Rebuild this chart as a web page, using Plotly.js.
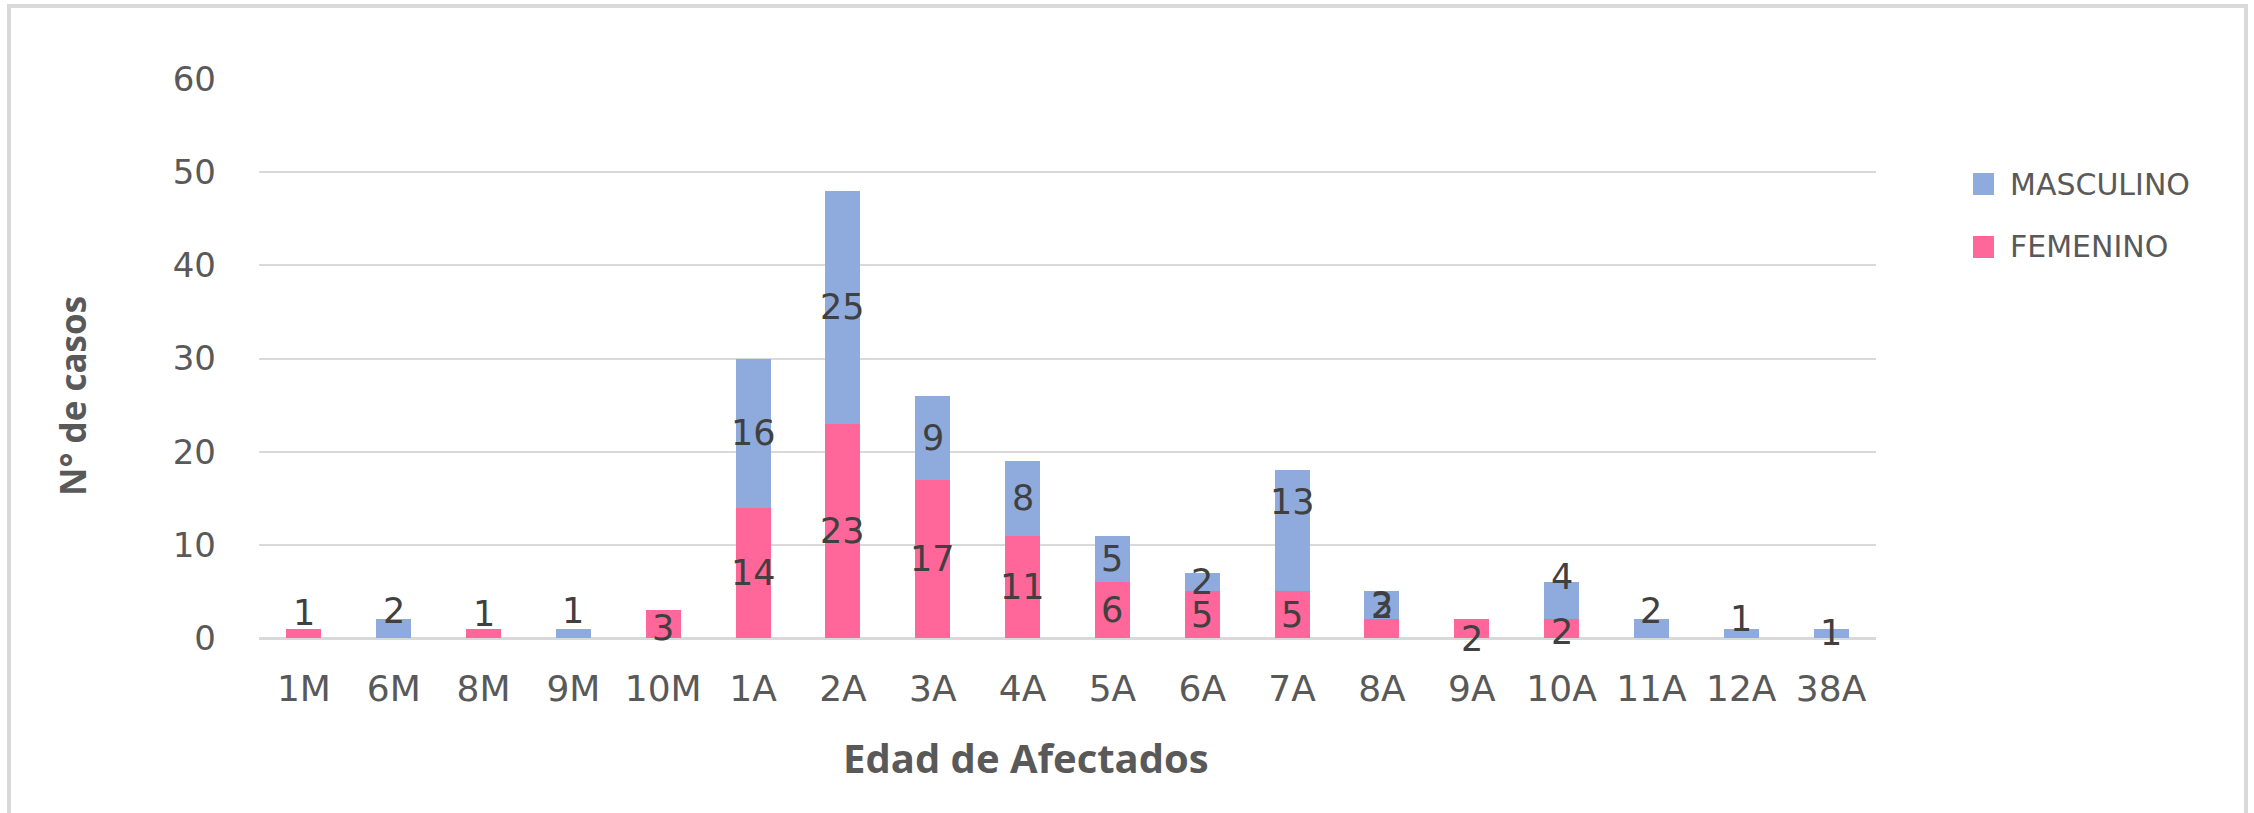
<!DOCTYPE html>
<html>
<head>
<meta charset="utf-8">
<script src="https://cdn.plot.ly/plotly-3.0.1.min.js"></script>
<style>
  html, body { margin: 0; padding: 0; background: #fff; overflow: hidden; }
  #chart { width: 2254px; height: 813px; }
  #frame { position: absolute; left: 7px; top: 4px; width: 2233px; height: 900px;
           border: 4px solid #d9d9d9; border-bottom: none; pointer-events: none; }
</style>
</head>
<body>
<div id="chart"></div>
<div id="frame"></div>
<script>
// ---- data ----
const categories = ['1M','6M','8M','9M','10M','1A','2A','3A','4A','5A','6A','7A','8A','9A','10A','11A','12A','38A'];
const seriesNames = ['FEMENINO', 'MASCULINO'];
const femenino  = [1, null, 1, null, 3, 14, 23, 17, 11, 6, 5, 5, 2, 2, 2, null, null, null];
const masculino = [null, 2, null, 1, null, 16, 25, 9, 8, 5, 2, 13, 3, null, 4, 2, 1, 1];
const yTicks = [0, 10, 20, 30, 40, 50, 60];
const xTitle = 'Edad de Afectados';
const yTitle = 'N° de casos';

// ---- style (label nudges in px, upward) ----
const femShift  = [20, 0, 19, 0, -4, 0, 0, 0, 0, 0, 0, 0, 23, -10, -3, 0, 0, 0];
const mascShift = [0, 18, 0, 22, 0, 0, 0, 0, 0, 0, 0, 29, 0, 0, 24, 18, 14, 0];
const colFem = '#ff6699', colMasc = '#8faadc';

const W = 2254, H = 813;
const M = {l: 259, r: 378, t: 79, b: 175};
const PW = W - M.l - M.r, PH = H - M.t - M.b;
const px2x = p => (p - M.l) / PW;
const py2y = p => (H - M.b - p) / PH;

const traces = [
  {type: 'bar', name: seriesNames[0], x: categories, y: femenino,
   marker: {color: colFem}, hoverinfo: 'x+y+name'},
  {type: 'bar', name: seriesNames[1], x: categories, y: masculino,
   marker: {color: colMasc}, hoverinfo: 'x+y+name'}
];

const labelFont = {family: 'DejaVu Sans', size: 35, color: '#404040'};
const annotations = [];
categories.forEach((c, i) => {
  const f = femenino[i] || 0;
  if (femenino[i] != null) {
    annotations.push({x: c, y: f / 2, xref: 'x', yref: 'y', text: String(femenino[i]),
      showarrow: false, font: labelFont, yshift: femShift[i], xanchor: 'center', yanchor: 'middle'});
  }
  if (masculino[i] != null) {
    annotations.push({x: c, y: f + masculino[i] / 2, xref: 'x', yref: 'y', text: String(masculino[i]),
      showarrow: false, font: labelFont, yshift: mascShift[i], xanchor: 'center', yanchor: 'middle'});
  }
});

// axis titles
annotations.push({xref: 'paper', yref: 'paper', x: px2x(1026), y: py2y(757), text: xTitle,
  showarrow: false, xanchor: 'center', yanchor: 'middle',
  font: {family: 'Open Sans', size: 40, weight: 'bold', color: '#595959'}});
annotations.push({xref: 'paper', yref: 'paper', x: px2x(72), y: py2y(396), text: yTitle,
  showarrow: false, xanchor: 'center', yanchor: 'middle', textangle: -90,
  font: {family: 'Open Sans', size: 35, weight: 'bold', color: '#595959'}});

// legend (manual, MASCULINO on top)
const legendItems = [
  {name: seriesNames[1], color: colMasc, cy: 184},
  {name: seriesNames[0], color: colFem, cy: 247}
];
const shapes = [];
legendItems.forEach(it => {
  shapes.push({type: 'rect', xref: 'paper', yref: 'paper',
    x0: px2x(1973), x1: px2x(1994), y0: py2y(it.cy - 11), y1: py2y(it.cy + 11),
    fillcolor: it.color, line: {width: 0}});
  annotations.push({xref: 'paper', yref: 'paper', x: px2x(2008), y: py2y(it.cy), text: it.name,
    showarrow: false, xanchor: 'left', yanchor: 'middle',
    font: {family: 'DejaVu Sans', size: 30, color: '#595959'}});
});

const layout = {
  width: W, height: H,
  margin: M,
  paper_bgcolor: '#ffffff', plot_bgcolor: '#ffffff',
  barmode: 'stack', bargap: 0.61,
  showlegend: false,
  font: {family: 'DejaVu Sans', color: '#595959'},
  xaxis: {
    type: 'category', categoryorder: 'array', categoryarray: categories,
    showgrid: false, showline: false, zeroline: false, ticks: '',
    tickfont: {family: 'DejaVu Sans', size: 36, color: '#595959'},
    ticklabelstandoff: 26
  },
  yaxis: {
    range: [0, 60], tickvals: yTicks, ticktext: yTicks.map(String),
    showgrid: true, gridcolor: '#d9d9d9', gridwidth: 2,
    zeroline: true, zerolinecolor: '#d9d9d9', zerolinewidth: 3,
    showline: false, ticks: '',
    tickfont: {family: 'DejaVu Sans', size: 34, color: '#595959'},
    ticklabelstandoff: 42
  },
  annotations: annotations,
  shapes: shapes
};

Plotly.newPlot('chart', traces, layout, {displayModeBar: false, staticPlot: true});
</script>
</body>
</html>
